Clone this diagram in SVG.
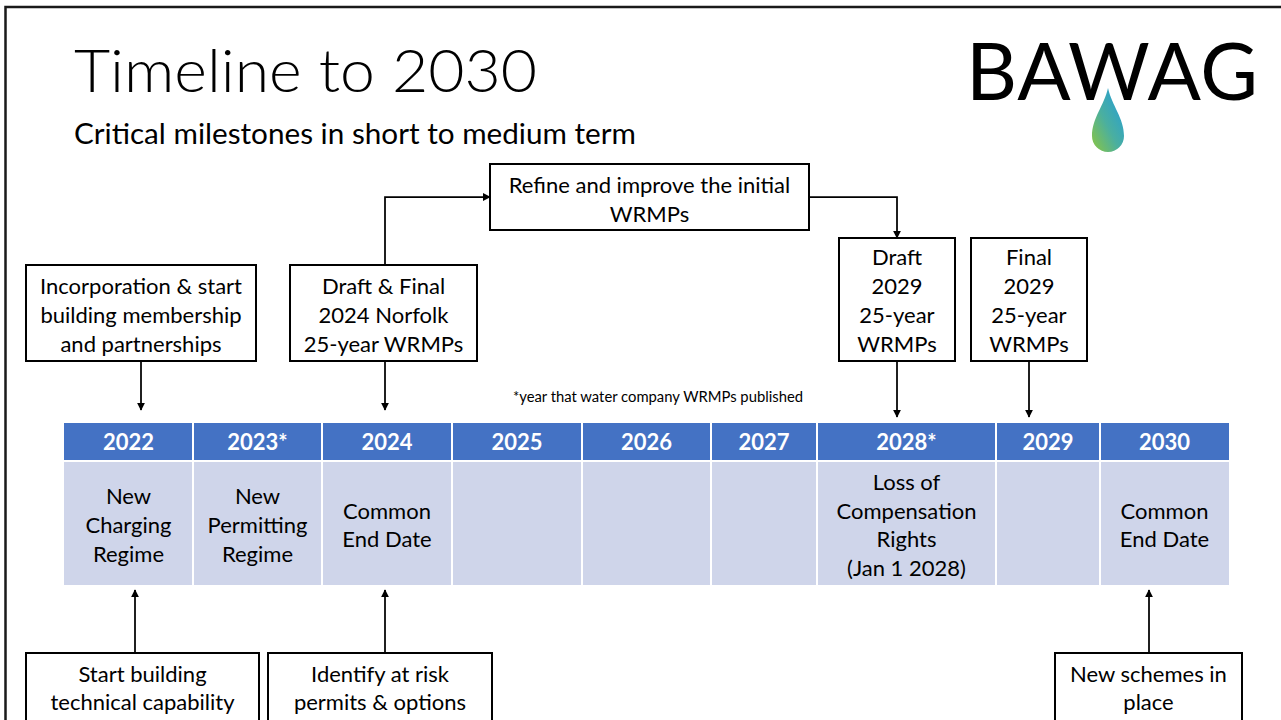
<svg xmlns="http://www.w3.org/2000/svg" width="1281" height="720" viewBox="0 0 1281 720">
<style>
  .t{font-family:Lato,"Liberation Sans",sans-serif;font-size:22px;fill:#000;text-anchor:middle}
  .h{font-family:Lato,"Liberation Sans",sans-serif;font-size:22px;font-weight:bold;fill:#fff;text-anchor:middle}
  .box{fill:#fff;stroke:#000;stroke-width:2}
  .hd{fill:#4472C4}
  .bd{fill:#CFD5EA}
  .c{fill:none;stroke:#000;stroke-width:1.75}
</style>
<defs>
  <marker id="ar" viewBox="0 0 10 10" refX="9" refY="5" markerWidth="4.5" markerHeight="4.5" orient="auto" markerUnits="strokeWidth">
    <path d="M0 0 L10 5 L0 10 Z" fill="#000"/>
  </marker>
  <linearGradient id="drop" x1="1" y1="0" x2="0" y2="1">
    <stop offset="0" stop-color="#1E9BE0"/>
    <stop offset="0.55" stop-color="#4AAFA0"/>
    <stop offset="1" stop-color="#8CC63F"/>
  </linearGradient>
</defs>
<rect x="0" y="0" width="1281" height="720" fill="#fff"/>
<path d="M5.5 720 V7 H1281" fill="none" stroke="#1a1a1a" stroke-width="2.5"/>

<g id="title">
  <text x="74" y="92" font-family="Lato,'Liberation Sans',sans-serif" font-weight="300" font-size="59" textLength="463" lengthAdjust="spacingAndGlyphs">Timeline to 2030</text>
  <text x="74" y="144" font-family="Lato,'Liberation Sans',sans-serif" font-size="28" textLength="562" lengthAdjust="spacingAndGlyphs">Critical milestones in short to medium term</text>
</g>

<g id="logo">
  <text x="966" y="100" font-family="Lato,'Liberation Sans',sans-serif" font-size="79" textLength="292" lengthAdjust="spacing">BAWAG</text>
  <path d="M1108 88 C1104 106 1092 118 1092 136 A16 16 0 0 0 1124 136 C1124 118 1112 106 1108 88 Z" fill="url(#drop)"/>
</g>

<g id="table">
  <rect class="hd" x="64" y="423" width="1165" height="37"/>
  <rect class="bd" x="64" y="462" width="1165" height="123"/>
  <g stroke="#fff" stroke-width="2">
    <line x1="193" y1="423" x2="193" y2="585"/>
    <line x1="322" y1="423" x2="322" y2="585"/>
    <line x1="452" y1="423" x2="452" y2="585"/>
    <line x1="582" y1="423" x2="582" y2="585"/>
    <line x1="711" y1="423" x2="711" y2="585"/>
    <line x1="817" y1="423" x2="817" y2="585"/>
    <line x1="996" y1="423" x2="996" y2="585"/>
    <line x1="1100" y1="423" x2="1100" y2="585"/>
  </g>
  <text class="h" x="128.5" y="450">2022</text>
  <text class="h" x="257.5" y="450">2023*</text>
  <text class="h" x="387" y="450">2024</text>
  <text class="h" x="517" y="450">2025</text>
  <text class="h" x="646.5" y="450">2026</text>
  <text class="h" x="764" y="450">2027</text>
  <text class="h" x="906.5" y="450">2028*</text>
  <text class="h" x="1048" y="450">2029</text>
  <text class="h" x="1164.5" y="450">2030</text>

  <text class="t" x="128.5" y="504">New</text>
  <text class="t" x="128.5" y="533">Charging</text>
  <text class="t" x="128.5" y="562">Regime</text>
  <text class="t" x="257.5" y="504">New</text>
  <text class="t" x="257.5" y="533">Permitting</text>
  <text class="t" x="257.5" y="562">Regime</text>
  <text class="t" x="387" y="519">Common</text>
  <text class="t" x="387" y="547">End Date</text>
  <text class="t" x="906.5" y="490">Loss of</text>
  <text class="t" x="906.5" y="519">Compensation</text>
  <text class="t" x="906.5" y="547">Rights</text>
  <text class="t" x="906.5" y="576">(Jan 1 2028)</text>
  <text class="t" x="1164.5" y="519">Common</text>
  <text class="t" x="1164.5" y="547">End Date</text>
</g>

<g id="footnote">
  <text x="658" y="402" font-family="Lato,'Liberation Sans',sans-serif" font-size="14.8" text-anchor="middle">*year that water company WRMPs published</text>
</g>

<g id="n-incorporation">
  <rect class="box" x="26" y="265" width="230" height="96"/>
  <text class="t" x="141" y="294">Incorporation &amp; start</text>
  <text class="t" x="141" y="323">building membership</text>
  <text class="t" x="141" y="352">and partnerships</text>
</g>
<g id="n-draftfinal2024">
  <rect class="box" x="290" y="265" width="187" height="96"/>
  <text class="t" x="383.5" y="294">Draft &amp; Final</text>
  <text class="t" x="383.5" y="323">2024 Norfolk</text>
  <text class="t" x="383.5" y="352">25-year WRMPs</text>
</g>
<g id="n-refine">
  <rect class="box" x="490" y="164" width="319" height="66"/>
  <text class="t" x="649.5" y="193">Refine and improve the initial</text>
  <text class="t" x="649.5" y="222">WRMPs</text>
</g>
<g id="n-draft2029">
  <rect class="box" x="839" y="238" width="116" height="123"/>
  <text class="t" x="897" y="265">Draft</text>
  <text class="t" x="897" y="294">2029</text>
  <text class="t" x="897" y="323">25-year</text>
  <text class="t" x="897" y="352">WRMPs</text>
</g>
<g id="n-final2029">
  <rect class="box" x="971" y="238" width="116" height="123"/>
  <text class="t" x="1029" y="265">Final</text>
  <text class="t" x="1029" y="294">2029</text>
  <text class="t" x="1029" y="323">25-year</text>
  <text class="t" x="1029" y="352">WRMPs</text>
</g>
<g id="n-startbuilding">
  <rect class="box" x="26" y="653" width="233" height="80"/>
  <text class="t" x="142.5" y="682">Start building</text>
  <text class="t" x="142.5" y="710">technical capability</text>
</g>
<g id="n-identify">
  <rect class="box" x="268" y="653" width="224" height="80"/>
  <text class="t" x="380" y="682">Identify at risk</text>
  <text class="t" x="380" y="710">permits &amp; options</text>
</g>
<g id="n-newschemes">
  <rect class="box" x="1055" y="653" width="187" height="80"/>
  <text class="t" x="1148.5" y="682">New schemes in</text>
  <text class="t" x="1148.5" y="710">place</text>
</g>

<g id="connectors">
  <path class="c" d="M141 361 V410" marker-end="url(#ar)"/>
  <path class="c" d="M385 361 V410" marker-end="url(#ar)"/>
  <path class="c" d="M385 265 V197 H490" marker-end="url(#ar)"/>
  <path class="c" d="M809 197 H897 V238" marker-end="url(#ar)"/>
  <path class="c" d="M897 361 V417" marker-end="url(#ar)"/>
  <path class="c" d="M1029 361 V417" marker-end="url(#ar)"/>
  <path class="c" d="M135 653 V590" marker-end="url(#ar)"/>
  <path class="c" d="M385 653 V590" marker-end="url(#ar)"/>
  <path class="c" d="M1149 653 V590" marker-end="url(#ar)"/>
</g>
</svg>
